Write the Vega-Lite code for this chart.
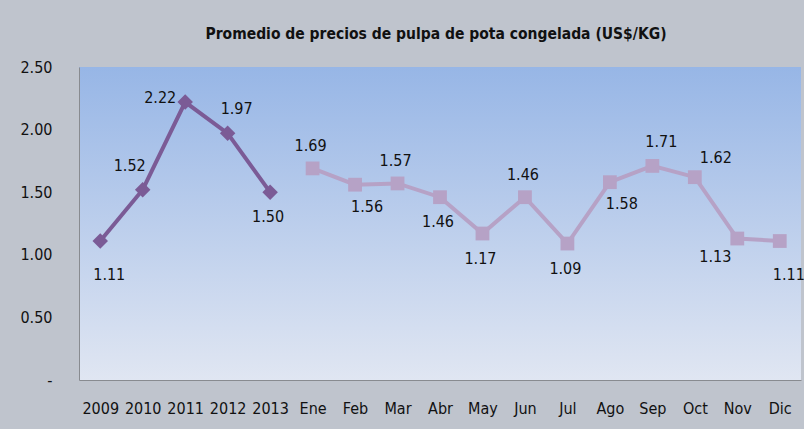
{
  "$schema": "https://vega.github.io/schema/vega-lite/v6.json",
  "autosize": {"type": "none"},
  "padding": {"left": 79, "top": 67, "right": 3, "bottom": 49},
  "width": 722,
  "height": 313,
  "background": "#bfc4cd",
  "title": {
    "text": "Promedio de precios de pulpa de pota congelada (US$/KG)",
    "anchor": "middle",
    "frame": "group",
    "font": "DejaVu Sans Condensed, serif",
    "fontSize": 15.5,
    "fontWeight": "bold",
    "color": "#111111",
    "baseline": "alphabetic",
    "offset": 5,
    "dx": -4
  },
  "config": {
    "view": {
      "stroke": null,
      "fill": {"gradient": "linear", "x1": 0, "y1": 0, "x2": 0, "y2": 1,
        "stops": [{"offset": 0, "color": "#97b6e6"}, {"offset": 1, "color": "#e0e6f2"}]}
    },
    "font": "DejaVu Sans Condensed, serif",
    "axis": {"labelFont": "DejaVu Sans Condensed, serif", "labelFontSize": 16, "labelColor": "#111111", "grid": false, "ticks": false, "domainColor": "#888b90", "title": null}
  },
  "data": {
    "values": [
      {"cat": "2009", "value": 1.11, "series": "Anual"},
      {"cat": "2010", "value": 1.52, "series": "Anual"},
      {"cat": "2011", "value": 2.22, "series": "Anual"},
      {"cat": "2012", "value": 1.97, "series": "Anual"},
      {"cat": "2013", "value": 1.50, "series": "Anual"},
      {"cat": "Ene", "value": 1.69, "series": "Mensual"},
      {"cat": "Feb", "value": 1.56, "series": "Mensual"},
      {"cat": "Mar", "value": 1.57, "series": "Mensual"},
      {"cat": "Abr", "value": 1.46, "series": "Mensual"},
      {"cat": "May", "value": 1.17, "series": "Mensual"},
      {"cat": "Jun", "value": 1.46, "series": "Mensual"},
      {"cat": "Jul", "value": 1.09, "series": "Mensual"},
      {"cat": "Ago", "value": 1.58, "series": "Mensual"},
      {"cat": "Sep", "value": 1.71, "series": "Mensual"},
      {"cat": "Oct", "value": 1.62, "series": "Mensual"},
      {"cat": "Nov", "value": 1.13, "series": "Mensual"},
      {"cat": "Dic", "value": 1.11, "series": "Mensual"}
    ]
  },
  "encoding": {
    "x": {
      "field": "cat", "type": "ordinal", "sort": null,
      "scale": {"type": "point", "padding": 0.5},
      "axis": {"labelAngle": 0, "labelPadding": 20}
    },
    "y": {
      "field": "value", "type": "quantitative",
      "scale": {"domain": [0, 2.5], "nice": false},
      "axis": {"values": [0, 0.5, 1, 1.5, 2, 2.5], "labelExpr": "datum.value == 0 ? '-' : format(datum.value, '.2f')", "labelPadding": 27}
    }
  },
  "layer": [
    {
      "mark": {"type": "line", "strokeWidth": 4},
      "encoding": {
        "color": {"field": "series", "type": "nominal", "scale": {"domain": ["Anual", "Mensual"], "range": ["#7b5b96", "#b6a2c6"]}, "legend": null}
      }
    },
    {
      "mark": {"type": "point", "filled": true, "opacity": 1},
      "encoding": {
        "color": {"field": "series", "type": "nominal", "scale": {"domain": ["Anual", "Mensual"], "range": ["#7b5b96", "#b6a2c6"]}, "legend": null},
        "shape": {"field": "series", "type": "nominal", "scale": {"domain": ["Anual", "Mensual"], "range": ["diamond", "square"]}, "legend": null},
        "size": {"field": "series", "type": "nominal", "scale": {"domain": ["Anual", "Mensual"], "range": [240, 190]}, "legend": null}
      }
    },
    {
      "transform": [{"filter": {"field": "cat", "oneOf": ["Ene", "Mar", "Jun"]}}],
      "mark": {"type": "text", "fontSize": 16, "color": "#111111", "dx": -2, "dy": -22},
      "encoding": {"text": {"field": "value", "type": "quantitative", "format": ".2f"}}
    },
    {
      "transform": [{"filter": {"field": "cat", "oneOf": ["2012", "Sep"]}}],
      "mark": {"type": "text", "fontSize": 16, "color": "#111111", "dx": 9, "dy": -24},
      "encoding": {"text": {"field": "value", "type": "quantitative", "format": ".2f"}}
    },
    {
      "transform": [{"filter": {"field": "cat", "oneOf": ["Oct"]}}],
      "mark": {"type": "text", "fontSize": 16, "color": "#111111", "dx": 21, "dy": -19},
      "encoding": {"text": {"field": "value", "type": "quantitative", "format": ".2f"}}
    },
    {
      "transform": [{"filter": {"field": "cat", "oneOf": ["2010"]}}],
      "mark": {"type": "text", "fontSize": 16, "color": "#111111", "dx": -13, "dy": -24},
      "encoding": {"text": {"field": "value", "type": "quantitative", "format": ".2f"}}
    },
    {
      "transform": [{"filter": {"field": "cat", "oneOf": ["2011"]}}],
      "mark": {"type": "text", "fontSize": 16, "color": "#111111", "dx": -25, "dy": -4},
      "encoding": {"text": {"field": "value", "type": "quantitative", "format": ".2f"}}
    },
    {
      "transform": [{"filter": {"field": "cat", "oneOf": ["2013", "Abr", "May", "Jul"]}}],
      "mark": {"type": "text", "fontSize": 16, "color": "#111111", "dx": -2, "dy": 25},
      "encoding": {"text": {"field": "value", "type": "quantitative", "format": ".2f"}}
    },
    {
      "transform": [{"filter": {"field": "cat", "oneOf": ["Feb", "Ago"]}}],
      "mark": {"type": "text", "fontSize": 16, "color": "#111111", "dx": 12, "dy": 22},
      "encoding": {"text": {"field": "value", "type": "quantitative", "format": ".2f"}}
    },
    {
      "transform": [{"filter": {"field": "cat", "oneOf": ["2009", "Dic"]}}],
      "mark": {"type": "text", "fontSize": 16, "color": "#111111", "dx": 9, "dy": 34},
      "encoding": {"text": {"field": "value", "type": "quantitative", "format": ".2f"}}
    },
    {
      "transform": [{"filter": {"field": "cat", "oneOf": ["Nov"]}}],
      "mark": {"type": "text", "fontSize": 16, "color": "#111111", "dx": -22, "dy": 18},
      "encoding": {"text": {"field": "value", "type": "quantitative", "format": ".2f"}}
    }
  ]
}
